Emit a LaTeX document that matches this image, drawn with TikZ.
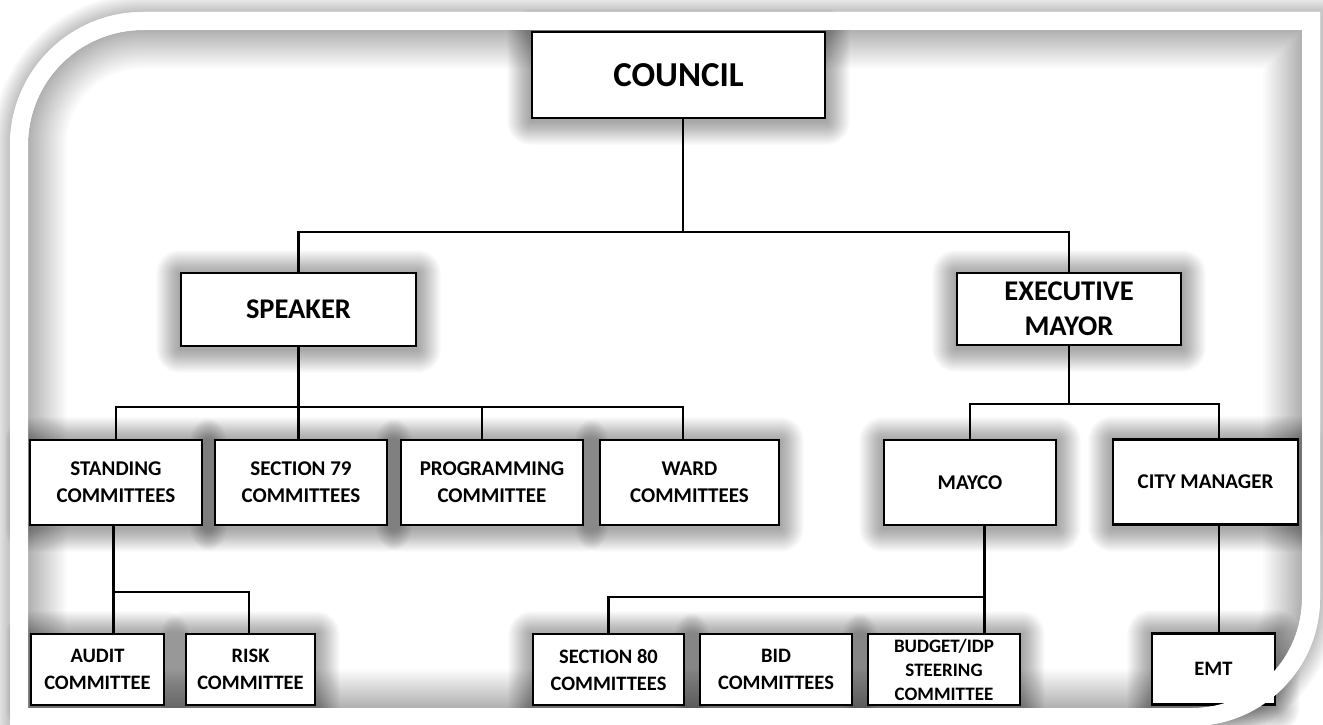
\documentclass[tikz,border=0pt]{standalone}
\usepackage{fontspec}
\setmainfont{Carlito}
\pgfdeclarelayer{back}
\pgfdeclarelayer{shadow}
\pgfdeclarelayer{lines}
\pgfdeclarelayer{front}
\pgfsetlayers{back,shadow,lines,main,front}
\newcommand\boxshadow[1]{%
  \foreach \w in {2,4,...,48}{%
    \draw[line width=\w pt, black, opacity=0.014, line join=round]
      ([yshift=-2pt]#1.south west) rectangle ([yshift=-2pt]#1.north east);}}
\begin{document}
\begin{tikzpicture}[x=1pt,y=-1pt,
  box/.style={draw=black, line width=2.6pt, fill=white, inner sep=0pt, align=center,
    font=\bfseries\fontsize{21}{27}\selectfont},
  bigbox/.style={box, font=\bfseries\fontsize{28.5}{35}\selectfont},
  lowbox/.style={box, minimum height=71pt, font=\bfseries\fontsize{20.5}{27}\selectfont},
  conn/.style={draw=black, line width=2.5pt},
  outerp/.style={insert path={(10,726) -- (10,145) .. controls (10,71.5) and (69.5,12) .. (143,12)
      -- (1320,12) -- (1320,598) .. controls (1320,668.7) and (1262.7,726) .. (1192,726) -- cycle}},
  innerp/.style={insert path={(28,708) -- (28,145) .. controls (28,81.5) and (79.5,30) .. (143,30)
      -- (1302,30) -- (1302,598) .. controls (1302,658.75) and (1252.75,708) .. (1192,708) -- cycle}},
]
\useasboundingbox (0,0) rectangle (1323,725);

\begin{pgfonlayer}{back}
  \fill[white] (0,0) rectangle (1323,725);
  \foreach \w in {3,6,...,36}{\draw[line width=\w pt, black, opacity=0.018, outerp];}
  \fill[white, outerp];
  \begin{scope}
    \clip[innerp];
    \foreach \w in {3,6,...,78}{\draw[line width=\w pt, black, opacity=0.011, innerp];}
  \end{scope}
\end{pgfonlayer}

% boxes
\node[box, minimum width=293pt, minimum height=86pt, font=\bfseries\fontsize{35}{42}\selectfont] (council) at (678.5,75) {COUNCIL};
\node[bigbox, minimum width=235pt, minimum height=73pt] (speaker) at (298.5,309.5) {SPEAKER};
\node[bigbox, minimum width=224pt, minimum height=72pt] (exec) at (1069,309) {EXECUTIVE\\MAYOR};

\node[box, minimum width=172pt, minimum height=85pt] (standing) at (116,482.5) {STANDING\\COMMITTEES};
\node[box, minimum width=172pt, minimum height=85pt] (sec79) at (301,482.5) {SECTION 79\\COMMITTEES};
\node[box, minimum width=182pt, minimum height=85pt] (prog) at (492,482.5) {PROGRAMMING\\COMMITTEE};
\node[box, minimum width=179pt, minimum height=85pt] (ward) at (689.5,482.5) {WARD\\COMMITTEES};
\node[box, minimum width=172pt, minimum height=85pt] (mayco) at (970,482.5) {MAYCO};
\node[box, minimum width=185pt, minimum height=85pt] (city) at (1205.5,482) {CITY MANAGER};

\node[lowbox, minimum width=133pt] (audit) at (97.5,669.5) {AUDIT\\COMMITTEE};
\node[lowbox, minimum width=129pt] (risk) at (250.5,669.5) {RISK\\COMMITTEE};
\node[lowbox, minimum width=151pt] (sec80) at (608.5,669.5) {SECTION 80\\COMMITTEES};
\node[lowbox, minimum width=152pt] (bid) at (776,669.5) {BID\\COMMITTEES};
\node[lowbox, minimum width=152pt, font=\bfseries\fontsize{19}{24}\selectfont] (budget) at (944,669.5) {BUDGET/IDP\\STEERING\\COMMITTEE};
\node[lowbox, minimum width=123pt] (emt) at (1213.5,669) {EMT};

\coordinate (bus0) at (0,232);
\coordinate (bus1) at (0,407);
\coordinate (bus2) at (0,404);
\coordinate (bus3) at (0,592);
\coordinate (bus4) at (0,597);

\begin{pgfonlayer}{shadow}
  \foreach \n in {council,speaker,exec,standing,sec79,prog,ward,mayco,city,audit,risk,sec80,bid,budget,emt}{\boxshadow{\n}}
\end{pgfonlayer}

\begin{pgfonlayer}{lines}
  % council
  \draw[conn] ([xshift=4.5pt]council.south) -- ([xshift=4.5pt]council.south |- bus0);
  \draw[conn] (speaker.north) |- (exec.north |- bus0) -- (exec.north);
  % speaker
  \draw[conn] (speaker.south) -- (speaker.south |- sec79.north);
  \draw[conn] (standing.north) |- ([xshift=-6.5pt]ward.north |- bus1) -- ([xshift=-6.5pt]ward.north);
  \draw[conn] ([xshift=-10pt]prog.north) -- ([xshift=-10pt]prog.north |- bus1);
  % executive mayor
  \draw[conn] (exec.south) -- (exec.south |- bus2);
  \draw[conn] (mayco.north) |- ([xshift=13.5pt]city.north |- bus2) -- ([xshift=13.5pt]city.north);
  % standing
  \draw[conn] ([xshift=-2.5pt]standing.south) -- ([xshift=-2.5pt]standing.south |- audit.north);
  \draw[conn] ([xshift=-2.5pt]standing.south |- bus3) -| ([xshift=-1.5pt]risk.north);
  % mayco
  \draw[conn] ([xshift=14.5pt]mayco.south) -- ([xshift=14.5pt]mayco.south |- budget.north);
  \draw[conn] (sec80.north) |- ([xshift=14.5pt]mayco.south |- bus4);
  % city manager
  \draw[conn] ([xshift=13.5pt]city.south) -- ([xshift=13.5pt]city.south |- emt.north);
\end{pgfonlayer}

\begin{pgfonlayer}{front}
  \fill[white, even odd rule, outerp, innerp];
\end{pgfonlayer}
\end{tikzpicture}
\end{document}
